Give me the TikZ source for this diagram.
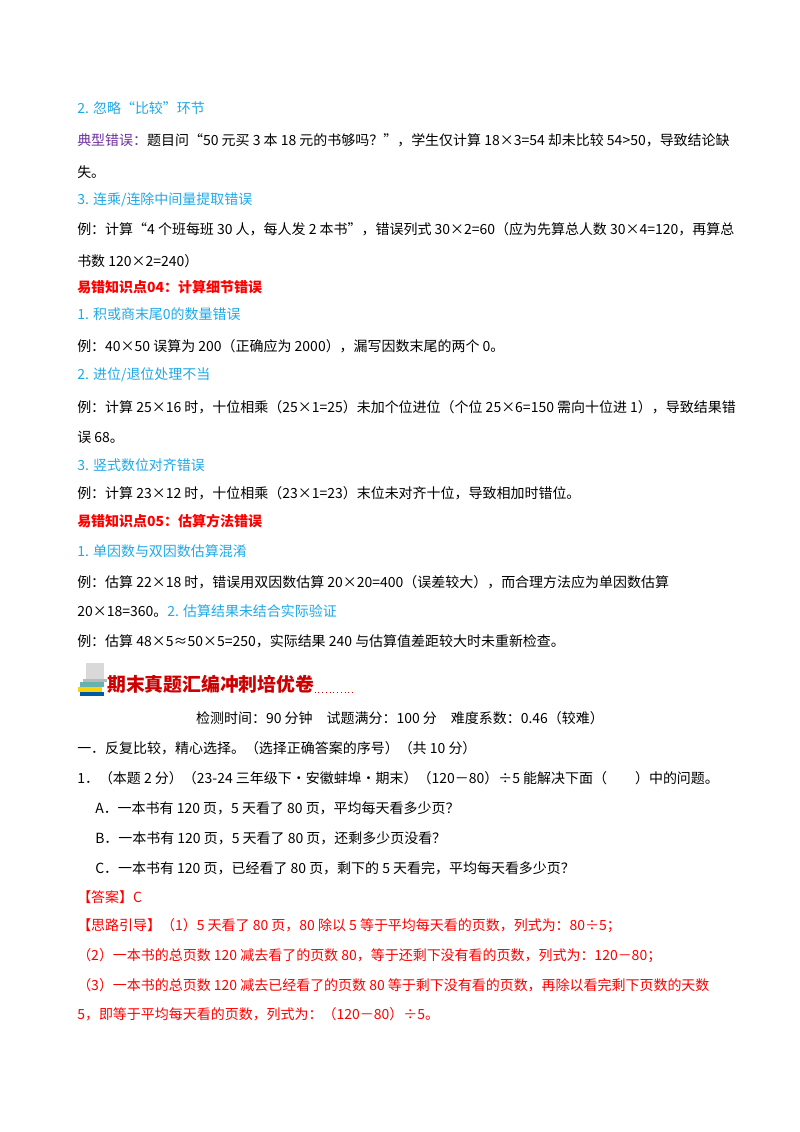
\documentclass[tikz,border=0pt]{standalone}
\usepackage{fontspec}
\setmainfont{Noto Sans CJK SC}
\definecolor{hblue}{HTML}{1FA9E8}
\definecolor{hpurple}{HTML}{7030A0}
\definecolor{hred}{HTML}{FF0000}
\tikzset{ln/.style={anchor=west,inner sep=0pt,font=\fontsize{10.4}{12}\selectfont},
 hb/.style={ln,text=hblue}, hr/.style={ln,text=hred,font=\fontsize{10.4}{12}\selectfont\bfseries}}
\begin{document}
\begin{tikzpicture}[x=0.744pt,y=-0.744pt]
\useasboundingbox (0,0) rectangle (800,1132);
\fill[white] (0,0) rectangle (800,1132);
\node[hb] (l1) at (77,108) {2. 忽略“比较”环节};
\node[ln] (l2) at (77,140) {\textcolor{hpurple}{典型错误：}题目问“50 元买 3 本 18 元的书够吗？”，学生仅计算 18×3=54 却未比较 54>50，导致结论缺};
\node[ln] (l3) at (77,172) {失。};
\node[hb] (l4) at (77,200) {3. 连乘/连除中间量提取错误};
\node[ln] (l5) at (77,229) {例：计算“4 个班每班 30 人，每人发 2 本书”，错误列式 30×2=60（应为先算总人数 30×4=120，再算总};
\node[ln] (l6) at (77,261) {书数 120×2=240）};
\node[hr] (l7) at (77,287) {易错知识点04：计算细节错误};
\node[hb] (l8) at (77,314) {1. 积或商末尾0的数量错误};
\node[ln] (l9) at (77,346) {例：40×50 误算为 200（正确应为 2000），漏写因数末尾的两个 0。};
\node[hb] (l10) at (77,375) {2. 进位/退位处理不当};
\node[ln] (l11) at (77,407) {例：计算 25×16 时，十位相乘（25×1=25）未加个位进位（个位 25×6=150 需向十位进 1），导致结果错};
\node[ln] (l12) at (77,437) {误 68。};
\node[hb] (l13) at (77,465) {3. 竖式数位对齐错误};
\node[ln] (l14) at (77,493) {例：计算 23×12 时，十位相乘（23×1=23）末位未对齐十位，导致相加时错位。};
\node[hr] (l15) at (77,521) {易错知识点05：估算方法错误};
\node[hb] (l16) at (77,551) {1. 单因数与双因数估算混淆};
\node[ln,text width=651*0.744pt,align=justify] (l17) at (77,582) {例：估算 22×18 时，错误用双因数估算 20×20=400（误差较大），而合理方法应为单因数估算\hspace*{\fill}\hspace*{-\fill}\rlap{}\par};
\node[ln] (l18) at (77,611) {20×18=360。\textcolor{hblue}{2. 估算结果未结合实际验证}};
\node[ln] (l19) at (77,641) {例：估算 48×5≈50×5=250，实际结果 240 与估算值差距较大时未重新检查。};
% banner icon
\fill[gray!30] (86,663) rectangle (104,679);
\fill[gray!55] (83,679) rectangle (107,682);
\fill[teal!60] (80,682) rectangle (104,687);
\fill[yellow!70!orange] (78,687) rectangle (102,692);
\fill[teal!70!blue] (80,692) rectangle (104,696);
\node[anchor=west,inner sep=0pt,text=red!80!black,font=\fontsize{14}{16}\selectfont\bfseries] (ban) at (107,684) {期末真题汇编冲刺培优卷};
\draw[red!80!black,dotted,line width=0.8pt] (ban.south east) ++(0,-1) -- ++(40,0);
\node[ln,anchor=center] (m1) at (400,718) {检测时间：90 分钟\quad 试题满分：100 分\quad 难度系数：0.46（较难）};
\node[ln] (m2) at (77,748) {一．反复比较，精心选择。（选择正确答案的序号）（共 10 分）};
\node[ln] (m3) at (77,778) {1．（本题 2 分）（23-24 三年级下・安徽蚌埠・期末）（120－80）÷5 能解决下面（\qquad）中的问题。};
\node[ln] (m4) at (95,808) {A．一本书有 120 页，5 天看了 80 页，平均每天看多少页？};
\node[ln] (m5) at (95,838) {B．一本书有 120 页，5 天看了 80 页，还剩多少页没看？};
\node[ln] (m6) at (95,868) {C．一本书有 120 页，已经看了 80 页，剩下的 5 天看完，平均每天看多少页？};
\node[ln,text=hred] (m7) at (77,897) {【答案】C};
\node[ln,text=hred] (m8) at (77,926) {【思路引导】（1）5 天看了 80 页，80 除以 5 等于平均每天看的页数，列式为：80÷5；};
\node[ln,text=hred] (m9) at (77,956) {（2）一本书的总页数 120 减去看了的页数 80，等于还剩下没有看的页数，列式为：120－80；};
\node[ln,text=hred] (m10) at (77,985) {（3）一本书的总页数 120 减去已经看了的页数 80 等于剩下没有看的页数，再除以看完剩下页数的天数};
\node[ln,text=hred] (m11) at (77,1014) {5，即等于平均每天看的页数，列式为：（120－80）÷5。};
\end{tikzpicture}
\end{document}
